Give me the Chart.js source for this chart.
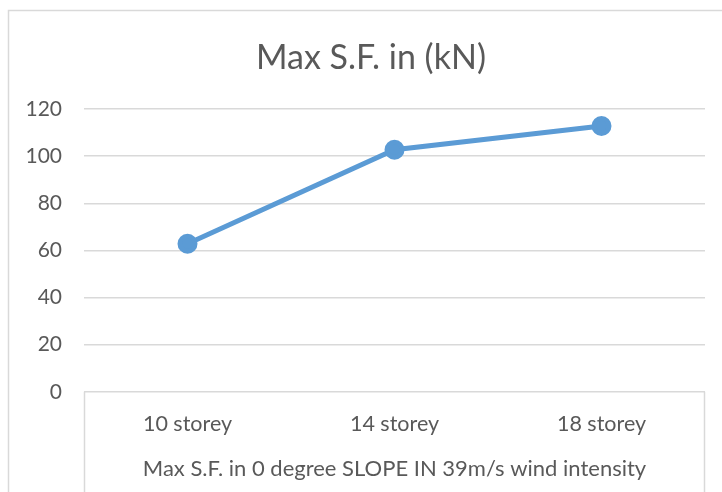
<!DOCTYPE html>
<html>
<head>
<meta charset="utf-8">
<script src="https://cdn.jsdelivr.net/npm/chart.js@4/dist/chart.umd.min.js"></script>
<style>
    html, body { margin: 0; padding: 0; background: #fff; }
    #wrap { width: 722px; height: 492px; }
</style>
</head>
<body>
<div id="wrap"><canvas id="sfChart" width="722" height="492"></canvas></div>
<script>
const categories = ["10 storey", "14 storey", "18 storey"];
const maxSF = [62.8, 102.7, 112.8];
const yTicks = [0, 20, 40, 60, 80, 100, 120];
const chartTitle = "Max S.F. in (kN)";

const textColor = "#595959";
const gridColor = "#d9d9d9";

// outer frame, the box under the x axis and the title (Excel-style)
const framePlugin = {
    id: "frame",
    beforeDraw(chart) {
        const ctx = chart.ctx;
        const area = chart.chartArea;
        ctx.save();
        ctx.strokeStyle = gridColor;
        ctx.lineWidth = 1.5;
        ctx.strokeRect(8.5, 10.5, 900, 700);
        ctx.beginPath();
        ctx.moveTo(Math.round(area.left) + 0.5, area.bottom);
        ctx.lineTo(Math.round(area.left) + 0.5, chart.height);
        ctx.moveTo(Math.round(area.right) - 0.5, area.bottom);
        ctx.lineTo(Math.round(area.right) - 0.5, chart.height);
        ctx.stroke();

        ctx.fillStyle = textColor;
        ctx.font = "34px Lato";
        ctx.textAlign = "center";
        ctx.textBaseline = "middle";
        ctx.fillText(chartTitle, 371, 58);
        ctx.restore();
    }
};

new Chart(document.getElementById("sfChart"), {
    type: "line",
    data: {
        labels: categories,
        datasets: [{
            label: "Max S.F.",
            data: maxSF,
            borderColor: "#5b9bd5",
            backgroundColor: "#5b9bd5",
            borderWidth: 5,
            pointRadius: 7.5,
            pointHoverRadius: 7.5,
            tension: 0
        }]
    },
    options: {
        responsive: false,
        animation: false,
        events: [],
        layout: { padding: { top: 109, right: 17, bottom: 10, left: 0 } },
        plugins: {
            legend: { display: false },
            tooltip: { enabled: false },
            title: { display: false }
        },
        scales: {
            x: {
                offset: true,
                grid: { display: false, drawTicks: false },
                border: { display: false },
                ticks: {
                    color: textColor,
                    padding: 19,
                    font: { family: "Lato", size: 21.5 }
                },
                title: {
                    display: true,
                    text: "Max S.F. in 0 degree SLOPE IN 39m/s wind intensity",
                    color: textColor,
                    font: { family: "Lato", size: 22 },
                    padding: { top: 0, bottom: 0 }
                }
            },
            y: {
                min: 0,
                max: 120,
                afterBuildTicks(scale) {
                    scale.ticks = yTicks.map(v => ({ value: v }));
                },
                afterFit(scale) {
                    scale.width = 84;
                },
                grid: { color: gridColor, lineWidth: 1.5, drawTicks: false },
                border: { display: false },
                ticks: {
                    color: textColor,
                    padding: 22,
                    font: { family: "Lato", size: 21 }
                }
            }
        }
    },
    plugins: [framePlugin]
});
</script>
</body>
</html>
